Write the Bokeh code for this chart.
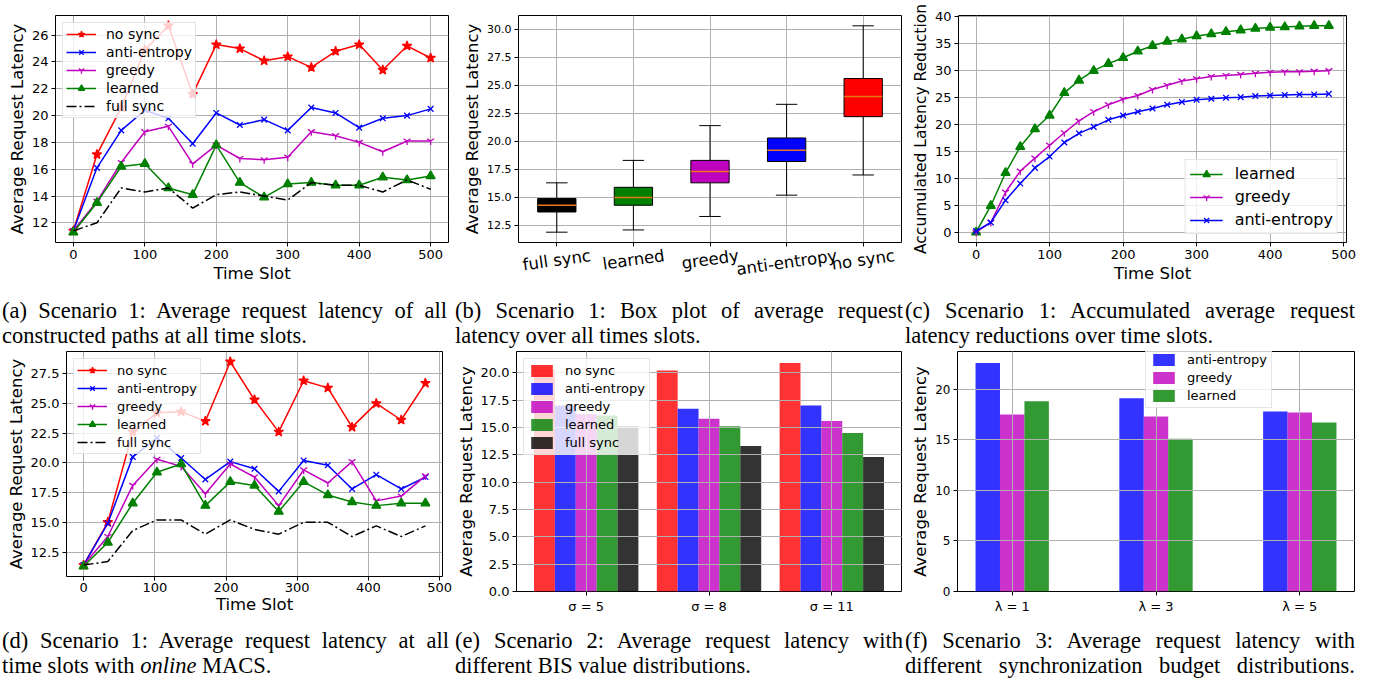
import math
from bokeh.plotting import figure
from bokeh.layouts import column, row
from bokeh.models import Div, Range1d, FixedTicker, PrintfTickFormatter, LinearAxis
from bokeh.embed import file_html
from bokeh.resources import INLINE

# ---------------- data ----------------
# (a) Scenario 1: average request latency of all constructed paths
a_x = [0, 33, 67, 100, 133, 167, 200, 233, 267, 300, 333, 367, 400, 433, 467, 500]
a_nosync = [11.4, 17.1, 20.6, 24.9, 26.7, 21.6, 25.3, 25.0, 24.1, 24.4, 23.6, 24.8, 25.3, 23.4, 25.2, 24.3]
a_anti = [11.4, 16.1, 18.9, 20.4, 19.8, 17.9, 20.2, 19.3, 19.7, 18.9, 20.6, 20.2, 19.1, 19.8, 20.0, 20.5]
a_greedy = [11.4, 13.6, 16.5, 18.8, 19.2, 16.4, 17.8, 16.8, 16.7, 16.9, 18.8, 18.5, 18.0, 17.3, 18.1, 18.1]
a_learned = [11.3, 13.5, 16.2, 16.4, 14.6, 14.1, 17.8, 15.0, 13.9, 14.9, 15.0, 14.8, 14.8, 15.4, 15.2, 15.5]
a_full = [11.4, 12.0, 14.6, 14.3, 14.6, 13.1, 14.1, 14.3, 14.0, 13.7, 15.0, 14.8, 14.8, 14.3, 15.2, 14.5]

# (b) box plot statistics
b_cats = ["full sync", "learned", "greedy", "anti-entropy", "no sync"]
b_low = [11.9, 12.1, 13.3, 15.2, 17.0]
b_q1 = [13.7, 14.3, 16.3, 18.2, 22.2]
b_med = [14.3, 15.0, 17.3, 19.2, 24.0]
b_q3 = [14.9, 15.9, 18.3, 20.3, 25.6]
b_high = [16.3, 18.3, 21.4, 23.3, 30.3]

# (c) accumulated latency reduction
c_x = [0, 20, 40, 60, 80, 100, 120, 140, 160, 180, 200, 220, 240, 260, 280, 300,
       320, 340, 360, 380, 400, 420, 440, 460, 480]
c_learned = [0, 4.9, 11.0, 15.8, 19.1, 21.6, 25.8, 28.1, 29.9, 31.2, 32.3, 33.5, 34.5,
             35.3, 35.7, 36.3, 36.7, 37.1, 37.4, 37.7, 37.9, 38.0, 38.1, 38.2, 38.2]
c_greedy = [0, 1.8, 7.4, 11.3, 13.7, 16.1, 18.4, 20.6, 22.3, 23.6, 24.6, 25.3, 26.4,
            27.2, 28.0, 28.4, 28.8, 29.0, 29.2, 29.4, 29.6, 29.7, 29.7, 29.8, 29.9]
c_anti = [0.2, 1.8, 5.9, 9.0, 11.9, 14.0, 16.6, 18.3, 19.5, 20.8, 21.6, 22.3, 22.9,
          23.6, 24.1, 24.5, 24.7, 24.9, 25.0, 25.2, 25.3, 25.4, 25.5, 25.5, 25.6]

# (d) online MACS
d_x = [0, 34, 69, 103, 137, 171, 206, 240, 274, 309, 343, 377, 411, 446, 480]
d_nosync = [11.4, 15.0, 22.6, 24.2, 24.3, 23.5, 28.5, 25.3, 22.6, 26.9, 26.3, 23.0, 25.0, 23.6, 26.7]
d_anti = [11.4, 14.9, 20.5, 22.1, 20.4, 18.6, 20.1, 19.5, 17.6, 20.2, 19.8, 17.8, 19.0, 17.8, 18.8]
d_greedy = [11.4, 13.8, 18.1, 20.3, 19.7, 17.4, 19.9, 18.8, 16.4, 19.4, 18.3, 20.1, 16.8, 17.2, 18.9]
d_learned = [11.3, 13.3, 16.6, 19.2, 19.9, 16.4, 18.4, 18.1, 15.9, 18.4, 17.3, 16.7, 16.4, 16.6, 16.6]
d_full = [11.4, 11.7, 14.3, 15.2, 15.2, 14.0, 15.2, 14.4, 14.0, 15.0, 15.0, 13.8, 14.7, 13.8, 14.7]

# (e) Scenario 2: BIS value distributions
e_groups = ["σ = 5", "σ = 8", "σ = 11"]
e_nosync = [20.3, 20.2, 20.9]
e_anti = [17.0, 16.7, 17.0]
e_greedy = [16.2, 15.8, 15.6]
e_learned = [16.1, 15.1, 14.5]
e_full = [15.1, 13.3, 12.3]

# (f) Scenario 3: synchronization budget distributions
f_groups = ["λ = 1", "λ = 3", "λ = 5"]
f_anti = [22.6, 19.1, 17.8]
f_greedy = [17.5, 17.3, 17.7]
f_learned = [18.8, 15.1, 16.7]

# ---------------- styling ----------------
FONT = "DejaVu Sans"
RED, BLUE, MAG, GREEN, BLACK = "#ff0000", "#0000ff", "#bf00bf", "#008000", "#000000"
YLAB = "Average Request Latency"
# DejaVu Sans advance widths (em) for the box-plot tick labels
ADV = {"f": .352, "u": .634, "l": .278, " ": .318, "s": .521, "y": .592, "n": .634,
       "c": .550, "e": .615, "a": .613, "r": .411, "d": .635, "g": .635, "-": .361,
       "t": .392, "i": .278, "o": .612, "p": .635}


def make_fig(w, h, xr, yr, bl, br, bt, bb):
    p = figure(width=w, height=h, x_range=Range1d(*xr), y_range=Range1d(*yr),
               output_backend="svg", toolbar_location=None,
               min_border_left=bl, min_border_right=br,
               min_border_top=bt, min_border_bottom=bb)
    p.outline_line_color = "black"
    p.outline_line_width = 1
    p.outline_line_alpha = 1
    p.background_fill_color = "white"
    p.border_fill_color = "white"
    for ax in p.axis:
        ax.axis_line_color = None
        ax.major_tick_line_color = "black"
        ax.major_tick_line_width = 1
        ax.major_tick_out = 4
        ax.major_tick_in = 0
        ax.minor_tick_line_color = None
        ax.major_label_text_font = FONT
        ax.major_label_text_font_size = "13px"
        ax.major_label_text_color = "black"
        ax.axis_label_text_font = FONT
        ax.axis_label_text_font_size = "16.5px"
        ax.axis_label_text_font_style = "normal"
        ax.axis_label_text_color = "black"
        ax.major_label_standoff = 3
        ax.axis_label_standoff = 2
    p.grid.grid_line_color = "#b0b0b0"
    p.grid.grid_line_width = 1
    return p


def style_legend(p, loc, size, gw, gh, spacing, pad, standoff, margin):
    lg = p.legend[0]
    lg.location = loc
    lg.label_text_font = FONT
    lg.label_text_font_size = size
    lg.label_text_color = "black"
    lg.glyph_width = gw
    lg.glyph_height = gh
    lg.label_height = gh
    lg.spacing = spacing
    lg.padding = pad
    lg.label_standoff = standoff
    lg.margin = margin
    lg.background_fill_color = "white"
    lg.background_fill_alpha = 0.8
    lg.border_line_color = "#cccccc"
    lg.border_line_width = 1
    return lg


def series(p, x, y, color, marker, label, size, dash="solid"):
    p.line(x, y, line_color=color, line_width=1.5, line_dash=dash, legend_label=label)
    if marker:
        p.scatter(x, y, marker=marker, size=size, fill_color=color, line_color=color,
                  line_width=1.3, legend_label=label)


def lines_panel(w, h, x, yr, bl, br, bt, bb, data, yticks, fmt, legend_size):
    p = make_fig(w, h, (-0.05 * max(x), 1.05 * max(x)), yr, bl, br, bt, bb)
    for (vals, color, marker, label, size, dash) in data:
        series(p, x, vals, color, marker, label, size, dash)
    p.xaxis.ticker = FixedTicker(ticks=[0, 100, 200, 300, 400, 500])
    p.yaxis.ticker = FixedTicker(ticks=yticks)
    if fmt:
        p.yaxis.formatter = PrintfTickFormatter(format=fmt)
    p.xaxis.axis_label = "Time Slot"
    p.yaxis.axis_label = YLAB
    style_legend(p, "top_left", legend_size, 30, 16, 2, 3, 10, 7)
    return p


def series_list(nosync, anti, greedy, learned, full):
    return [
        (nosync, RED, "star", "no sync", 10, "solid"),
        (anti, BLUE, "x", "anti-entropy", 8, "solid"),
        (greedy, MAG, "y", "greedy", 8, "solid"),
        (learned, GREEN, "triangle", "learned", 9, "solid"),
        (full, BLACK, None, "full sync", 0, "10 3 2 3"),
    ]


def yr_of(*arrs):
    lo = min(min(a) for a in arrs)
    hi = max(max(a) for a in arrs)
    m = 0.05 * (hi - lo)
    return (lo - m, hi + m)


ROW1_H, CAP1_H, ROW2_H, CAP2_H = 296, 52, 268, 66

# (a)
pa = lines_panel(452, ROW1_H, a_x, yr_of(a_nosync, a_anti, a_greedy, a_learned, a_full),
                 55, 4, 15, 54, series_list(a_nosync, a_anti, a_greedy, a_learned, a_full),
                 [12, 14, 16, 18, 20, 22, 24, 26], None, "14px")

# (b) box plot
b_pos = list(range(1, len(b_cats) + 1))
b_colors = [BLACK, GREEN, MAG, BLUE, RED]
B_W, B_BL, B_BR = 453, 66, 4
pb = make_fig(B_W, ROW1_H, (0.5, len(b_cats) + 0.5), yr_of(b_low, b_high), B_BL, B_BR, 15, 54)
pb.segment(b_pos, b_q3, b_pos, b_high, line_color="black", line_width=1)
pb.segment(b_pos, b_low, b_pos, b_q1, line_color="black", line_width=1)
cap = 0.14
pb.segment([v - cap for v in b_pos], b_high, [v + cap for v in b_pos], b_high,
           line_color="black", line_width=1)
pb.segment([v - cap for v in b_pos], b_low, [v + cap for v in b_pos], b_low,
           line_color="black", line_width=1)
pb.vbar(x=b_pos, bottom=b_q1, top=b_q3, width=0.5, fill_color=b_colors,
        line_color="black", line_width=1)
pb.segment([v - 0.25 for v in b_pos], b_med, [v + 0.25 for v in b_pos], b_med,
           line_color="#e8761a", line_width=1.5)
# tick marks at the category positions (labels drawn by a second, tilted axis)
pb.xaxis.ticker = FixedTicker(ticks=b_pos)
pb.xaxis.major_label_overrides = {v: "" for v in b_pos}
pb.xaxis.major_label_text_font_size = "1px"
pb.xaxis.major_label_standoff = 0
# tilted labels: Bokeh right-anchors rotated labels, so shift each anchor by half its width
ANG = 0.14
LBL_PX = 16.5
px_per_unit = (B_W - B_BL - B_BR) / len(b_cats)
shifted = []
for v, c in zip(b_pos, b_cats):
    wpx = sum(ADV.get(ch, 0.6) for ch in c) * LBL_PX
    shifted.append(round(v + (wpx / 2) * math.cos(ANG) / px_per_unit, 4))
lab_axis = LinearAxis(ticker=FixedTicker(ticks=shifted),
                      major_label_overrides={s: c for s, c in zip(shifted, b_cats)},
                      major_tick_out=0, major_tick_in=0, major_tick_line_color=None,
                      minor_tick_line_color=None, axis_line_color=None,
                      major_label_orientation=ANG, major_label_standoff=9,
                      major_label_text_font=FONT, major_label_text_font_size=f"{LBL_PX}px",
                      major_label_text_color="black")
pb.add_layout(lab_axis, "below")
pb.yaxis.ticker = FixedTicker(ticks=[12.5, 15.0, 17.5, 20.0, 22.5, 25.0, 27.5, 30.0])
pb.yaxis.formatter = PrintfTickFormatter(format="%.1f")
pb.yaxis.major_label_text_font_size = "11px"
pb.yaxis.axis_label = YLAB

# (c)
pc = make_fig(473, ROW1_H, (-0.05 * max(c_x), 1.05 * max(c_x)), yr_of(c_learned, c_greedy, c_anti),
              53, 32, 15, 54)
series(pc, c_x, c_learned, GREEN, "triangle", "learned", 9)
series(pc, c_x, c_greedy, MAG, "y", "greedy", 8)
series(pc, c_x, c_anti, BLUE, "x", "anti-entropy", 8)
pc.xaxis.ticker = FixedTicker(ticks=[0, 100, 200, 300, 400, 500])
pc.yaxis.ticker = FixedTicker(ticks=[0, 5, 10, 15, 20, 25, 30, 35, 40])
pc.xaxis.axis_label = "Time Slot"
pc.yaxis.axis_label = "Accumulated Latency Reduction"
pc.yaxis.axis_label_text_font_size = "15.5px"
style_legend(pc, "bottom_right", "16px", 33, 18, 4, 4, 12, 8)

# (d)
pd_ = lines_panel(452, ROW2_H, d_x, yr_of(d_nosync, d_anti, d_greedy, d_learned, d_full),
                  66, 10, 3, 39, series_list(d_nosync, d_anti, d_greedy, d_learned, d_full),
                  [12.5, 15.0, 17.5, 20.0, 22.5, 25.0, 27.5], "%.1f", "13px")
pd_.xaxis.major_label_standoff = 2
pd_.xaxis.axis_label_standoff = 0


# bar panels
def bar_panel(w, bl, br, groups, sets, top, yticks, fmt):
    bw = 0.17
    n = len(sets)
    half = (n * bw) / 2
    span = (len(groups) - 1) + 2 * half
    p = make_fig(w, ROW2_H, (-half - 0.05 * span, len(groups) - 1 + half + 0.05 * span),
                 (0, top * 1.05), bl, br, 3, 22)
    idx = list(range(len(groups)))
    for k, (label, vals, color) in enumerate(sets):
        off = (k - (n - 1) / 2) * bw
        p.vbar(x=[i + off for i in idx], top=vals, bottom=0, width=bw, fill_color=color,
               fill_alpha=0.8, line_color=None, legend_label=label)
    p.xaxis.ticker = FixedTicker(ticks=idx)
    p.xaxis.major_label_overrides = {i: g for i, g in zip(idx, groups)}
    p.yaxis.ticker = FixedTicker(ticks=yticks)
    if fmt:
        p.yaxis.formatter = PrintfTickFormatter(format=fmt)
    p.yaxis.axis_label = YLAB
    p.grid.level = "guide"
    return p


e_sets = [("no sync", e_nosync, RED), ("anti-entropy", e_anti, BLUE), ("greedy", e_greedy, MAG),
          ("learned", e_learned, GREEN), ("full sync", e_full, BLACK)]
pe = bar_panel(453, 64, 4, e_groups, e_sets, max(e_nosync),
               [0, 2.5, 5.0, 7.5, 10.0, 12.5, 15.0, 17.5, 20.0], "%.1f")
style_legend(pe, "top_left", "13px", 27, 15, 3, 4, 10, 7)

f_sets = [("anti-entropy", f_anti, BLUE), ("greedy", f_greedy, MAG), ("learned", f_learned, GREEN)]
pf = bar_panel(473, 52, 24, f_groups, f_sets, max(f_anti), [0, 5, 10, 15, 20], None)
pf.yaxis.major_label_text_font_size = "12px"
style_legend(pf, (188, ROW2_H - 3 - 22 - 60), "13px", 27, 15, 3, 4, 10, 0)


# ---------------- captions ----------------
def caption(w, left, tw, pad, h, line1, line2, justify2=False):
    last = "justify" if justify2 else "left"
    html = (
        f'<div style="width:{tw}px;margin-left:{left}px;font-family:\'Liberation Serif\',\'Times New Roman\',serif;'
        f'font-size:22.5px;line-height:25px;color:#000;padding-top:{pad}px;">'
        f'<div style="text-align:justify;text-align-last:justify;">{line1}</div>'
        f'<div style="text-align:justify;text-align-last:{last};">{line2}</div></div>'
    )
    return Div(text=html, width=w, height=h, margin=(0, 0, 0, 0), styles={"overflow": "hidden"})


ca = caption(452, 2, 445, 2, CAP1_H, "(a) Scenario 1: Average request latency of all",
             "constructed paths at all time slots.")
cb = caption(453, 3, 448, 2, CAP1_H, "(b) Scenario 1: Box plot of average request",
             "latency over all times slots.")
cc = caption(473, 0, 450, 2, CAP1_H, "(c) Scenario 1: Accumulated average request",
             "latency reductions over time slots.")
cd = caption(452, 2, 447, 12, CAP2_H, "(d) Scenario 1: Average request latency at all",
             "time slots with <i>online</i> MACS.")
ce = caption(453, 3, 448, 12, CAP2_H, "(e) Scenario 2: Average request latency with",
             "different BIS value distributions.")
cf = caption(473, 0, 450, 12, CAP2_H, "(f) Scenario 3: Average request latency with",
             "different synchronization budget distributions.", justify2=True)

layout = column(
    row(column(pa), column(pb), column(pc)),
    row(ca, cb, cc),
    row(column(pd_), column(pe), column(pf)),
    row(cd, ce, cf),
)

with open("out.html", "w") as fh:
    fh.write(file_html(layout, INLINE))
